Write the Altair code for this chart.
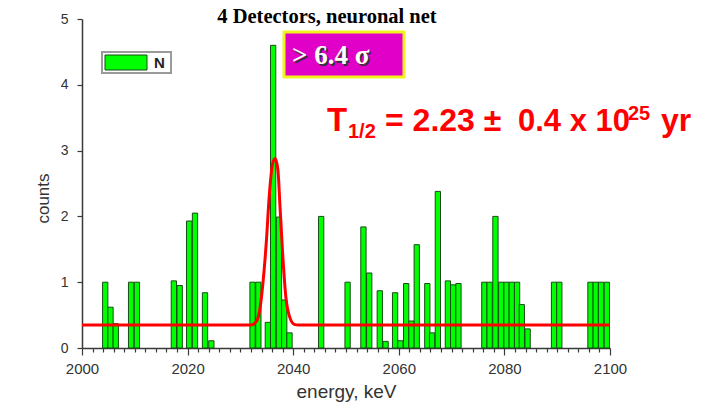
import altair as alt
import pandas as pd

# ---- data ----
bin_centers = [2004.4, 2005.4, 2006.4, 2009.3, 2010.4, 2017.4, 2018.5, 2020.3, 2021.4, 2023.3,
               2024.5, 2032.3, 2033.4, 2035.2, 2036.2, 2037.3, 2038.3, 2039.3, 2045.3, 2050.3,
               2053.3, 2054.4, 2056.4, 2057.5, 2059.3, 2060.3, 2061.4, 2062.4, 2063.4, 2065.4,
               2066.3, 2067.4, 2069.3, 2070.3, 2071.3, 2076.2, 2077.2, 2078.3, 2079.4, 2080.4,
               2081.4, 2082.4, 2083.3, 2084.4, 2089.4, 2090.4, 2096.3, 2097.3, 2098.3, 2099.4]
bin_counts = [1.0, 0.62, 0.37, 1.0, 1.0, 1.02, 0.95, 1.93, 2.05, 0.84,
              0.11, 1.0, 1.0, 0.39, 4.6, 1.99, 0.73, 0.23, 2.0, 1.0,
              1.84, 1.14, 0.87, 0.1, 0.84, 0.11, 0.98, 0.41, 1.57, 0.98,
              0.23, 2.38, 1.02, 0.96, 0.98, 1.0, 1.0, 2.0, 1.0, 1.0,
              1.0, 1.0, 0.66, 0.29, 1.0, 1.0, 1.0, 1.0, 1.0, 1.0]
bin_width = 1.0

fit_energy = [2000.0, 2032.0, 2033.0, 2033.6, 2034.2, 2034.9, 2035.5, 2036.1, 2036.6, 2037.1,
              2037.5, 2038.0, 2038.6, 2039.3, 2040.2, 2041.0, 2100.0]
fit_counts = [0.35, 0.35, 0.40, 0.55, 0.93, 1.60, 2.35, 2.80, 2.88, 2.71,
              2.15, 1.44, 0.78, 0.48, 0.36, 0.35, 0.35]

x_ticks = [2000, 2002, 2004, 2006, 2008, 2010, 2012, 2014, 2016, 2018, 2020, 2022, 2024, 2026,
           2028, 2030, 2032, 2034, 2036, 2038, 2040, 2042, 2044, 2046, 2048, 2050, 2052, 2054,
           2056, 2058, 2060, 2062, 2064, 2066, 2068, 2070, 2072, 2074, 2076, 2078, 2080, 2082,
           2084, 2086, 2088, 2090, 2092, 2094, 2096, 2098, 2100]
y_ticks = [0, 1, 2, 3, 4, 5]

bars_df = pd.DataFrame({
    "x0": [c - bin_width / 2 for c in bin_centers],
    "x1": [c + bin_width / 2 for c in bin_centers],
    "counts": bin_counts,
    "zero": [0.0] * len(bin_counts),
})
fit_df = pd.DataFrame({"x0": fit_energy, "counts": fit_counts})
dummy = pd.DataFrame({"d": [0]})

W, H = 528, 329
xscale = alt.Scale(domain=[2000, 2100], nice=False, zero=False)
yscale = alt.Scale(domain=[0, 5], nice=False)

AX = "#3a3a3a"
SANS = "Liberation Sans"
SERIF = "Liberation Serif"

x_axis = alt.Axis(
    title="energy, keV", values=x_ticks, format="d",
    labelExpr="datum.value % 20 === 0 ? datum.label : ''",
    tickSize={"condition": {"test": "datum.value % 20 === 0", "value": 7}, "value": 4},
    labelPadding=6, labelFont=SANS, labelFontSize=15, labelColor="#333333",
    labelOverlap=False, labelFlush=False, labelBound=False,
    domainColor=AX, domainWidth=1.5, tickColor=AX, tickWidth=1.2, grid=False,
    titleFont=SANS, titleFontSize=19, titleFontWeight="normal", titleColor="#333333",
    titleY=49, titleBaseline="alphabetic")
y_axis = alt.Axis(
    title="counts", values=y_ticks, format="d", tickSize=5, labelPadding=9,
    labelFont=SANS, labelFontSize=14, labelColor="#333333",
    labelFlush=False, labelBound=False,
    domainColor=AX, domainWidth=1.5, tickColor=AX, tickWidth=1.2, grid=False,
    titleFont=SANS, titleFontSize=17, titleFontWeight="normal", titleColor="#333333",
    titleAngle=-90, titleX=-34, titleY=179, titleAlign="center",
    titleBaseline="alphabetic")

bars = alt.Chart(bars_df).mark_rect(
    color="#00ff00", stroke="#174d17", strokeWidth=1
).encode(
    x=alt.X("x0:Q", scale=xscale, axis=x_axis),
    x2="x1:Q",
    y=alt.Y("counts:Q", scale=yscale, axis=y_axis),
    y2="zero:Q",
)

curve = alt.Chart(fit_df).mark_line(
    color="#ff0000", strokeWidth=3, interpolate="monotone"
).encode(
    x=alt.X("x0:Q", scale=xscale, axis=x_axis),
    y=alt.Y("counts:Q", scale=yscale, axis=y_axis),
)


def rect(x, x2, y, y2, fill, stroke=None, sw=0):
    kw = dict(fill=fill)
    if stroke:
        kw.update(stroke=stroke, strokeWidth=sw)
    return alt.Chart(dummy).mark_rect(**kw).encode(
        x=alt.value(x), x2=alt.value(x2), y=alt.value(y), y2=alt.value(y2))


def txt(s, x, y, size, color, font, weight="normal", align="left"):
    return alt.Chart(dummy).mark_text(
        text=s, fontSize=size, color=color, font=font, fontWeight=weight,
        align=align, baseline="alphabetic"
    ).encode(x=alt.value(x), y=alt.value(y))


layers = [
    bars,
    curve,
    # legend
    rect(20, 89, 33, 54, "#ffffff", "#9a9a9a", 2),
    rect(23, 65, 36, 51, "#00ff00", "#174d17", 1),
    txt("N", 72, 49, 15, "#222222", SANS, "bold"),
    # title
    txt("4 Detectors, neuronal net", 245, 4, 20.5, "#000000", SERIF, "bold", "center"),
    # significance box
    rect(202, 322, 13, 58, "#e000c8", "#f2f21c", 3),
    txt("> 6.4 \u03c3", 211.5, 46.5, 27, "#333333", SERIF, "bold"),
    txt("> 6.4 \u03c3", 210, 45, 27, "#ffffff", SERIF, "bold"),
    # half-life annotation
    txt("T", 245, 112, 33, "#ff0000", SANS, "bold"),
    txt("1/2", 266, 119, 20, "#ff0000", SANS, "bold"),
    txt("= 2.23 \u00b1", 303, 112, 32, "#ff0000", SANS, "bold"),
    txt("0.4 x 10", 436, 112, 31, "#ff0000", SANS, "bold"),
    txt("25", 546, 101, 20, "#ff0000", SANS, "bold"),
    txt("yr", 579, 112, 32, "#ff0000", SANS, "bold"),
]

chart = alt.layer(*layers).properties(
    width=W, height=H,
    autosize=alt.AutoSizeParams(type="none"),
    padding={"left": 82, "top": 19, "right": 103, "bottom": 61},
    background="#ffffff",
).configure_view(stroke=None)

chart.save("out.html", embed_options={"renderer": "svg", "actions": False})
